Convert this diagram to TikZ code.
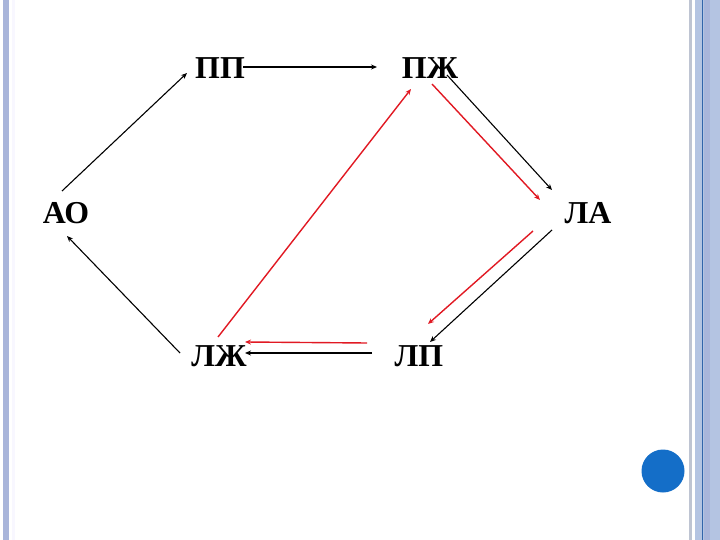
\documentclass[tikz,border=0pt]{standalone}
\usepackage{fontspec}
\setmainfont{Liberation Serif}
\usetikzlibrary{arrows.meta}

\definecolor{stripblue}{RGB}{169,181,218}
\definecolor{stripgrey}{RGB}{190,196,210}
\definecolor{paleblue}{RGB}{180,196,226}
\definecolor{darkline}{RGB}{50,100,170}
\definecolor{dotblue}{RGB}{20,110,200}
\definecolor{arrred}{RGB}{225,25,35}

\begin{document}
\begin{tikzpicture}[x=1bp,y=-1bp,
    lbl/.style={inner sep=0pt,font=\fontsize{32}{38}\selectfont\bfseries},
    blk/.style={draw=black,line width=1.1bp,-{Stealth[length=6bp,width=5bp]}},
    redarr/.style={draw=arrred,line width=1.4bp,-{Stealth[length=6bp,width=5bp]}}]

    % page
    \useasboundingbox[fill=white] (0,0) rectangle (720,540);

    % left border
    \fill[stripblue] (3,0) rectangle (9,540);
    \fill[red!4!blue!3] (12,0) rectangle (15,540);

    % right border
    \fill[stripgrey] (689,0) rectangle (692,540);
    \fill[paleblue] (695,0) rectangle (720,540);
    \fill[stripblue] (704,0) rectangle (710,540);
    \draw[darkline,line width=0.8bp] (702,0) -- (702,540);

    % blue dot
    \fill[dotblue] (663,471) circle (21.5);

    % labels
    \node[lbl] (pp) at (220,68) {ПП};
    \node[lbl] (pzh) at (430,68) {ПЖ};
    \node[lbl] (ao) at (66,213) {АО};
    \node[lbl] (la) at (588,213) {ЛА};
    \node[lbl] (lzh) at (219,356) {ЛЖ};
    \node[lbl] (lp) at (419,356) {ЛП};

    % black cycle
    \draw[blk] ([shift={(-4,-22)}]ao.center) to ([shift={(-33,5)}]pp.center);
    \draw[blk] ([shift={(23,-1)}]pp.center) to ([shift={(-53,-1)}]pzh.center);
    \draw[blk] ([shift={(17,7)}]pzh.center) to ([shift={(-36,-23)}]la.center);
    \draw[blk] ([shift={(-36,17)}]la.center) to ([shift={(11,-14)}]lp.center);
    \draw[blk] ([shift={(-47,-3)}]lp.center) to ([shift={(26,-3)}]lzh.center);
    \draw[blk] ([shift={(-39,-3)}]lzh.center) to ([shift={(1,23)}]ao.center);

    % red cycle
    \draw[redarr] ([shift={(2,16)}]pzh.center) to ([shift={(-48,-13)}]la.center);
    \draw[redarr] ([shift={(-55,18)}]la.center) to ([shift={(9,-32)}]lp.center);
    \draw[redarr] ([shift={(-52,-13)}]lp.center) to ([shift={(26,-14)}]lzh.center);
    \draw[redarr] ([shift={(-1,-19)}]lzh.center) to ([shift={(-19,21)}]pzh.center);

\end{tikzpicture}
\end{document}
